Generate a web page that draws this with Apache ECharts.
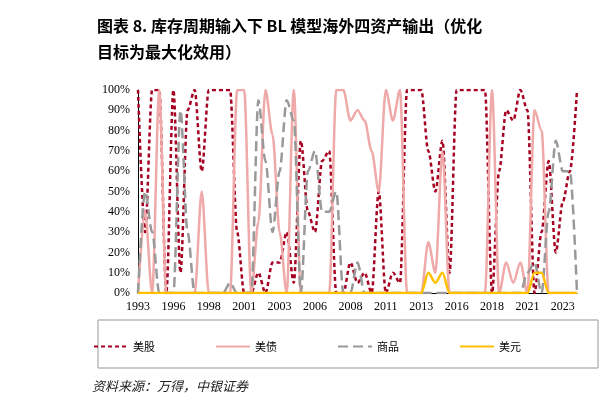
<!DOCTYPE html>
<html>
<head>
<meta charset="utf-8">
<script src="https://cdn.jsdelivr.net/npm/echarts@6/dist/echarts.min.js"></script>
<style>
html,body{margin:0;padding:0;background:#fff;}
#chart{width:614px;height:409px;}
</style>
</head>
<body>
<div id="chart"></div>
<script>
// 半年一个点，共63个
var tickLabels = {0:"1993",5:"1996",10:"1998",15:"2001",20:"2003",25:"2006",30:"2008",35:"2011",40:"2013",45:"2016",50:"2018",55:"2021",60:"2023"};
var categories = [];
for (var i = 0; i < 63; i++) categories.push("P" + i);

var stocks = [100,30,100,100,0,100,10,90,100,60,100,100,100,100,30,0,0,10,0,15,15,30,5,75,40,30,65,70,0,0,15,5,10,0,50,0,10,5,100,100,100,70,50,75,10,100,100,100,100,100,0,60,90,85,100,90,0,30,65,20,45,60,100];
var bonds = [0,40,0,100,0,0,0,0,0,50,0,0,0,0,100,100,0,35,100,78,30,0,100,0,0,0,0,0,100,100,85,90,85,70,50,100,85,100,0,0,0,25,10,70,0,0,0,0,0,0,100,0,15,5,15,0,90,80,0,0,0,0,0];
var commodities = [0,50,30,0,0,0,90,30,0,0,0,0,0,5,0,0,0,95,65,30,60,95,85,0,60,70,40,40,50,0,0,15,0,0,0,0,0,0,0,0,0,0,0,0,0,0,0,0,0,0,0,0,0,0,0,10,15,0,40,75,60,60,0];
var usd = [0,0,0,0,0,0,0,0,0,0,0,0,0,0,0,0,0,0,0,0,0,0,0,0,0,0,0,0,0,0,0,0,0,0,0,0,0,0,0,0,0,10,5,10,0,0,0,0,0,0,0,0,0,0,0,0,10,10,0,0,0,0,0];

var chart = echarts.init(document.getElementById("chart"));
var serif = "Liberation Serif";
function line(name, data, color, type, width) {
    return {
        name: name, type: "line", data: data, symbol: "none", smooth: 0.3, smoothMonotone: "x",
        lineStyle: {color: color, width: width, type: type},
        itemStyle: {color: color}
    };
}
chart.setOption({
    animation: false,
    title: {
        text: "图表 8. 库存周期输入下 BL 模型海外四资产输出（优化\n目标为最大化效用）",
        left: 92, top: 8,
        textStyle: {fontFamily: "Noto Sans CJK SC", fontSize: 16, fontWeight: "bold", color: "#000", lineHeight: 26}
    },
    graphic: [
        {type: "rect", shape: {x: 98, y: 320, width: 500, height: 48}, style: {fill: "none", stroke: "#999", lineWidth: 1}},
        {type: "text", left: 92, top: 380, style: {text: "资料来源：万得，中银证券", font: "italic 13px 'Noto Sans CJK SC'", fill: "#222"}}
    ],
    legend: {
        top: 336, left: "center", itemGap: 60, itemWidth: 34, itemHeight: 10,
        itemStyle: {opacity: 0},
        textStyle: {fontFamily: "Noto Sans CJK SC", fontSize: 11, color: "#000"},
        data: ["美股", "美债", "商品", "美元"]
    },
    grid: {left: 138, right: 37, top: 90, bottom: 116},
    xAxis: {
        type: "category", data: categories, boundaryGap: false,
        axisLine: {lineStyle: {color: "#000"}},
        axisTick: {show: false},
        axisLabel: {interval: 0, fontFamily: serif, fontSize: 12, color: "#000",
            formatter: function(v, idx) { return tickLabels[idx] || ""; }}
    },
    yAxis: {
        type: "value", min: 0, max: 100, interval: 10,
        splitLine: {show: false},
        axisLine: {show: true, lineStyle: {color: "#000"}},
        axisTick: {show: false},
        axisLabel: {formatter: "{value}%", fontFamily: serif, fontSize: 12, color: "#000"}
    },
    series: [
        line("美股", stocks, "#a50021", [4, 3], 2.5),
        line("美债", bonds, "#efa9a9", "solid", 2.5),
        line("商品", commodities, "#999999", [10, 5], 2.5),
        line("美元", usd, "#ffc000", "solid", 2.5)
    ]
});
</script>
</body>
</html>
